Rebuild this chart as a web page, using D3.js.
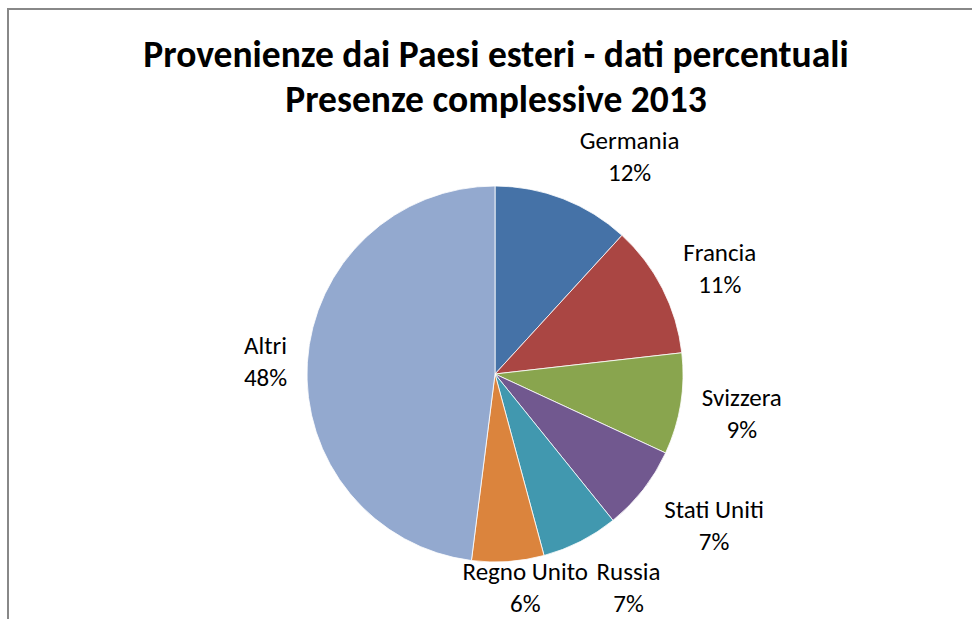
<!DOCTYPE html>
<html>
<head>
<meta charset="utf-8">
<title>Provenienze dai Paesi esteri</title>
<script src="https://cdnjs.cloudflare.com/ajax/libs/d3/7.8.5/d3.min.js"></script>
<style>
body { margin: 0; background: white; }
.title {
  font-family: Carlito, Lato, "Open Sans", sans-serif;
  font-weight: bold;
  font-size: 37.5px;
  fill: black;
  text-anchor: middle;
}
.label {
  font-family: Carlito, Lato, "Open Sans", sans-serif;
  font-size: 25px;
  fill: black;
  text-anchor: middle;
}
</style>
</head>
<body>
<svg width="972" height="619"></svg>
<script>
var countries = ["Germania", "Francia", "Svizzera", "Stati Uniti", "Russia", "Regno Unito", "Altri"];
var shares = [11.8, 11.4, 8.7, 7.3, 6.6, 6.2, 48.0];
var colors = ["#4572A7", "#AA4643", "#89A54E", "#71588F", "#4198AF", "#DB843D", "#93A9CF"];
var titleLines = ["Provenienze dai Paesi esteri - dati percentuali", "Presenze complessive 2013"];

// label nudges from the mid-angle point (like Excel "best fit")
var nudges = [[44, 16], [2, 8], [0, 0], [22, -2], [20, -9], [13, -35], [20, 4]];

var svg = d3.select("svg");
var cx = 495, cy = 374, r = 188, labelR = 250;

svg.append("rect")
  .attr("x", 8).attr("y", 9)
  .attr("width", 1000).attr("height", 700)
  .style("fill", "white")
  .style("stroke", "#888")
  .style("stroke-width", 2);

svg.selectAll(".title")
  .data(titleLines)
  .enter().append("text")
  .attr("class", "title")
  .attr("x", 496)
  .attr("y", function (d, i) { return 67 + i * 45; })
  .text(function (d) { return d; });

var pie = d3.pie().sort(null).value(function (d) { return d; });
var arcs = pie(shares);
var arc = d3.arc().innerRadius(0).outerRadius(r);

var g = svg.append("g").attr("transform", `translate(${cx},${cy})`);

g.selectAll("path")
  .data(arcs)
  .enter().append("path")
  .attr("d", arc)
  .style("fill", function (d, i) { return colors[i]; })
  .style("stroke", "white")
  .style("stroke-width", 0.8);

var labels = g.selectAll(".lbl")
  .data(arcs)
  .enter().append("g")
  .attr("transform", function (d, i) {
    var a = (d.startAngle + d.endAngle) / 2;
    var x = labelR * Math.sin(a) + nudges[i][0];
    var y = -labelR * Math.cos(a) + nudges[i][1];
    return `translate(${x},${y})`;
  });

labels.append("text")
  .attr("class", "label")
  .attr("y", -8)
  .text(function (d, i) { return countries[i]; });

labels.append("text")
  .attr("class", "label")
  .attr("y", 24)
  .text(function (d) { return Math.round(d.value) + "%"; });
</script>
</body>
</html>
